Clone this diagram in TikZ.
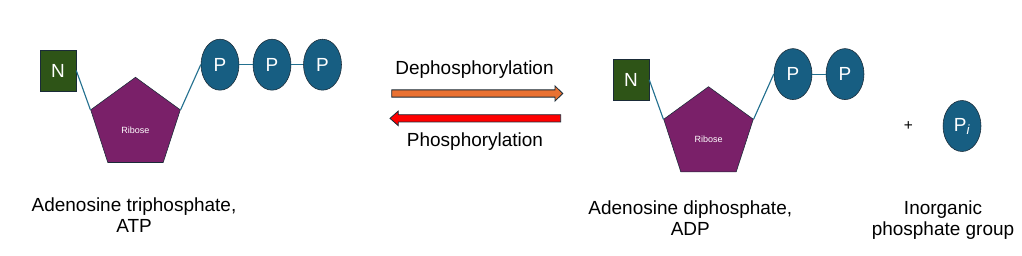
\documentclass[tikz,border=0pt]{standalone}
\usepackage{fontspec}
\setmainfont{Liberation Sans}
\usetikzlibrary{shapes.geometric}

\definecolor{basegreen}{HTML}{2E5417}
\definecolor{ribpurple}{HTML}{7A2069}
\definecolor{phosblue}{HTML}{175E82}
\definecolor{bondteal}{HTML}{23708F}
\definecolor{edgedark}{HTML}{1A2B38}
\definecolor{arrorange}{HTML}{E97132}

\tikzset{
    molfont/.style={font=\fontsize{13.5}{15}\selectfont},
    nbase/.style={molfont, draw=edgedark, fill=basegreen, text=white, minimum width=0.9cm, minimum height=1.02cm, inner sep=0pt},
    sugar/.style={regular polygon, regular polygon sides=5, draw=edgedark, fill=ribpurple, minimum size=2.355cm, inner sep=0pt},
    ribtext/.style={text=white, inner sep=0pt, font=\fontsize{6.4}{7}\selectfont},
    phos/.style={molfont, ellipse, draw=edgedark, fill=phosblue, text=white, minimum width=0.95cm, minimum height=1.275cm, inner sep=0pt},
    bond/.style={bondteal, line width=0.8pt},
    molname/.style={molfont, align=center, anchor=north, inner sep=0pt},
    blockarrow/.style={draw=edgedark, line width=0.6pt, line join=miter}
}

\begin{document}
\begin{tikzpicture}
    \useasboundingbox (0,0) rectangle (25.55,6.375);

    % ATP
    \node[nbase] (n1) at (1.45,4.6125) {N};
    \node[sugar] (rib1) at (3.3875,3.265) {};
    \node[ribtext] at ([yshift=-0.14cm]rib1.center) {Ribose};
    \node[phos] (p1) at (5.5,4.7575) {P};
    \node[phos] (p2) at (6.8,4.7575) {P};
    \node[phos] (p3) at (8.0625,4.7575) {P};
    \draw[bond] (n1.east) -- (rib1.corner 2);
    \draw[bond] (rib1.corner 5) -- (p1.west);
    \draw[bond] (p1.east) -- (p2.west);
    \draw[bond] (p2.east) -- (p3.west);
    \node[molname] (atp) at (3.35,1.45) {Adenosine triphosphate,\\ ATP};

    % reaction arrows
    \node[molfont, anchor=base] (dephos) at (11.8625,4.5175) {Dephosphorylation};
    \coordinate (fwd) at (9.7925,4.0375);
    \draw[blockarrow, fill=arrorange] (fwd) ++(0,0.091) -- ++(4.0825,0) -- ++(0,0.099)
        -- ++(0.1925,-0.19) -- ++(-0.1925,-0.19) -- ++(0,0.099) -- ++(-4.0825,0) -- cycle;
    \coordinate (bwd) at (14.0175,3.416);
    \draw[blockarrow, fill=red] (bwd) ++(0,0.091) -- ++(-4.06,0) -- ++(0,0.0915)
        -- ++(-0.2075,-0.1825) -- ++(0.2075,-0.1825) -- ++(0,0.0915) -- ++(4.06,0) -- cycle;
    \node[molfont, anchor=base] (phosph) at (11.875,2.725) {Phosphorylation};

    % ADP
    \begin{scope}[shift={(14.325,-0.235)}]
        \node[nbase] (n2) at (1.45,4.6125) {N};
        \node[sugar] (rib2) at (3.3875,3.265) {};
        \node[ribtext] at ([yshift=-0.14cm]rib2.center) {Ribose};
        \node[phos] (p4) at (5.5,4.7575) {P};
        \node[phos] (p5) at (6.8,4.7575) {P};
        \draw[bond] (n2.east) -- (rib2.corner 2);
        \draw[bond] (rib2.corner 5) -- (p4.west);
        \draw[bond] (p4.east) -- (p5.west);
    \end{scope}
    \node[molname] (adp) at (17.2575,1.375) {Adenosine diphosphate,\\ ADP};

    % inorganic phosphate
    \node[font=\fontsize{11}{12}\selectfont] (plus) at (22.7075,3.2325) {+};
    \node[phos] (pi) at (24.05,3.225) {P\textsubscript{\itshape i}};
    \node[molname] (pilab) at (23.575,1.375) {Inorganic\\ phosphate group};
\end{tikzpicture}
\end{document}
